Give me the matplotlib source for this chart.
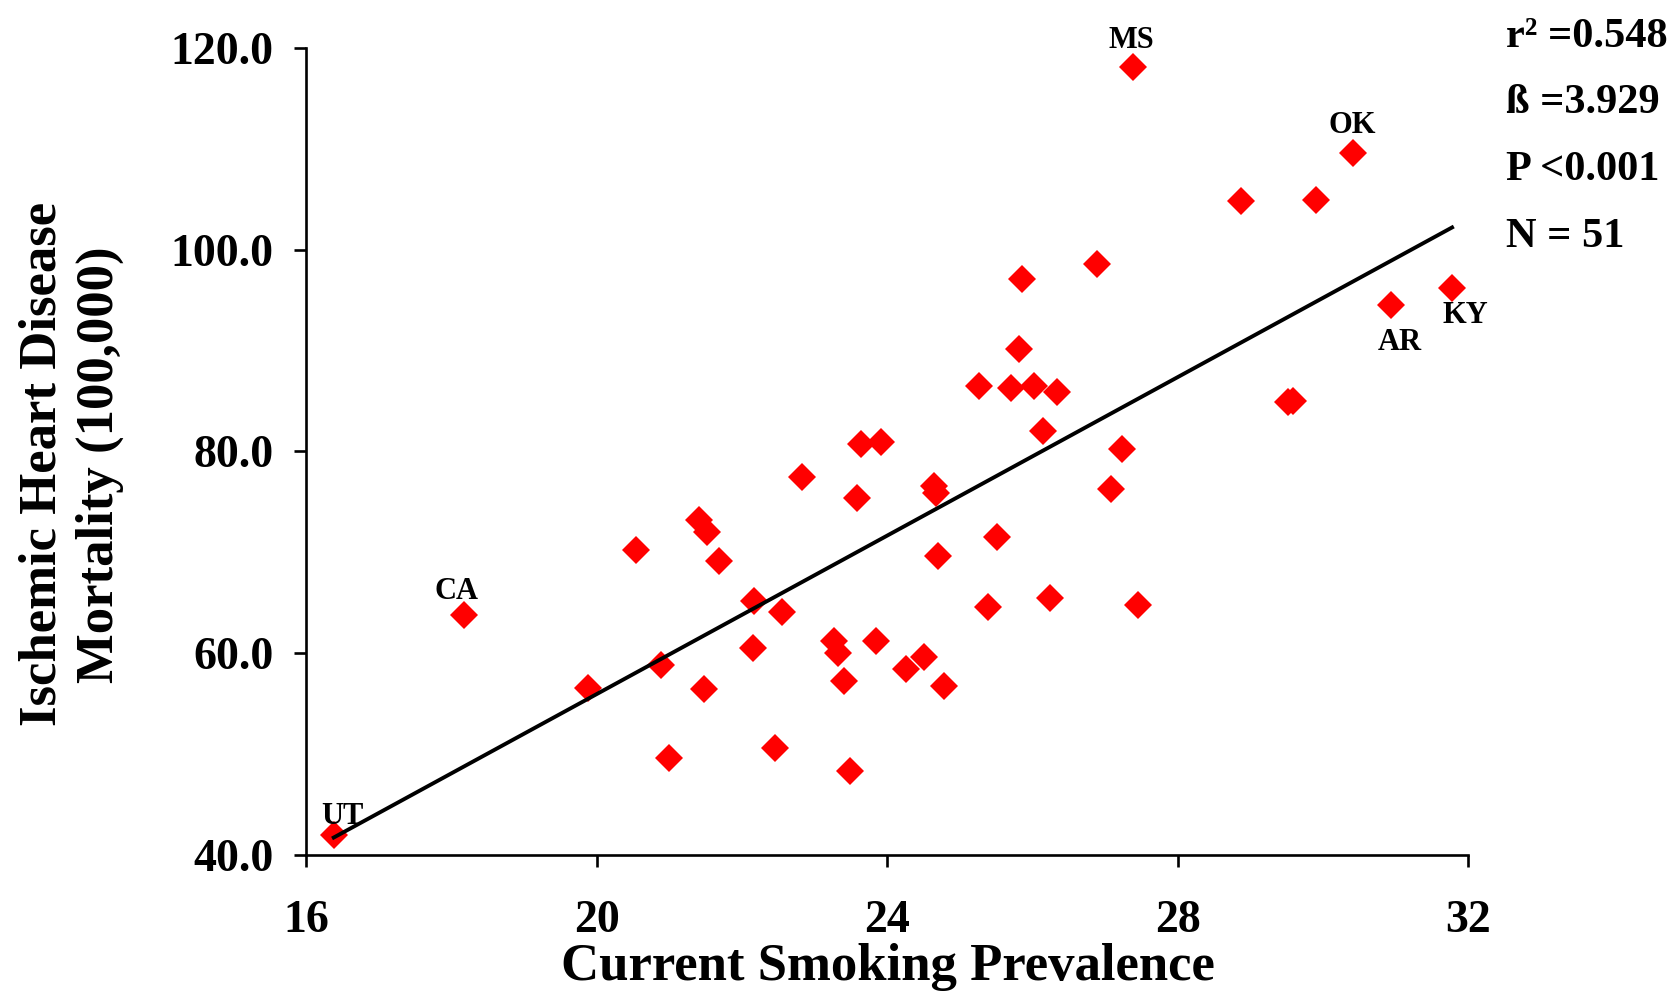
import numpy as np
import matplotlib
matplotlib.use('Agg')
import matplotlib.pyplot as plt

plt.rcParams['font.family'] = ['Liberation Serif', 'DejaVu Serif']
plt.rcParams['font.weight'] = 'bold'

# current smoking prevalence (%) and ischemic heart disease mortality per 100,000
smoking = [16.38, 18.17, 19.88, 20.54, 20.88, 21.00, 21.41, 21.52, 21.48, 21.69,
           22.17, 22.16, 22.46, 22.55, 22.83, 23.27, 23.33, 23.40, 23.49, 23.58,
           23.64, 23.92, 23.85, 24.26, 24.51, 24.64, 24.67, 24.70, 24.79, 25.27,
           25.39, 25.51, 25.71, 25.82, 25.86, 26.02, 26.14, 26.24, 26.34, 26.89,
           27.09, 27.24, 27.39, 27.46, 28.87, 29.52, 29.59, 29.90, 30.41, 30.94,
           31.78]
mortality = [41.9, 63.8, 56.5, 70.2, 58.8, 49.6, 73.2, 72.0, 56.4, 69.1,
             65.2, 60.5, 50.6, 64.1, 77.5, 61.2, 60.0, 57.2, 48.3, 75.4,
             80.7, 80.9, 61.2, 58.4, 59.6, 76.6, 75.9, 69.6, 56.7, 86.5,
             64.6, 71.5, 86.3, 90.1, 97.1, 86.5, 82.0, 65.5, 85.9, 98.6,
             76.3, 80.2, 118.1, 64.8, 104.8, 84.9, 85.0, 104.9, 109.6, 94.5,
             96.2]
states = ['UT', 'CA'] + [''] * 40 + ['MS'] + [''] * 5 + ['OK', 'AR', 'KY']

stats = ['r\u00b2 =0.548', '\u00df =3.929', 'P <0.001', 'N = 51']
beta = 3.929
intercept = -22.66

xticks = [16, 20, 24, 28, 32]
yticks = [40, 60, 80, 100, 120]

fig = plt.figure(figsize=(16.73, 9.94), dpi=100)
ax = fig.add_axes([0.183, 0.1402, 0.6945, 0.8115])

ax.plot(smoking, mortality, linestyle='none', marker='D', markersize=14.5,
        color='#ff0000', markeredgewidth=0, zorder=2)

xs = np.sort(np.array(smoking))
ax.plot(xs, intercept + beta * xs, color='black', lw=2.8, zorder=3)

# label offsets in points
offsets = {'UT': (6.5, 8.6), 'CA': (-5, 11.5), 'MS': (-1.4, 13.7),
           'OK': (0, 14.1), 'AR': (6.5, -32.4), 'KY': (9.4, -25.2)}
for xv, yv, s in zip(smoking, mortality, states):
    if s:
        ax.annotate(s, (xv, yv), xytext=offsets[s], textcoords='offset points',
                    ha='center', va='baseline', fontsize=22, fontweight='bold',
                    annotation_clip=False)

ax.set_xlim(16, 32)
ax.set_ylim(40, 120)
ax.set_xticks(xticks)
ax.set_yticks(yticks)
ax.set_xticklabels([str(t) for t in xticks])
ax.set_yticklabels(['%.1f' % t for t in yticks])
for sp in ['top', 'right']:
    ax.spines[sp].set_visible(False)
for sp in ['left', 'bottom']:
    ax.spines[sp].set_linewidth(1.9)
ax.tick_params(axis='both', direction='out', length=8.6, width=1.9, labelsize=33)
ax.tick_params(axis='x', pad=24)
ax.tick_params(axis='y', pad=15)
for lbl in ax.get_xticklabels() + ax.get_yticklabels():
    lbl.set_fontweight('bold')

fig.text(0.531, 0.014, 'Current Smoking Prevalence', ha='center', va='baseline',
         fontsize=38, fontweight='bold')
fig.text(0.0427, 0.533, 'Ischemic Heart Disease\nMortality (100,000)', rotation=90,
         ha='center', va='center', multialignment='center', fontsize=38,
         fontweight='bold', linespacing=1.25)

ys = [0.953, 0.886, 0.819, 0.752]
for s, yy in zip(stats, ys):
    fig.text(0.9, yy, s, ha='left', va='baseline', fontsize=30.5, fontweight='bold')

fig.savefig('out.png', dpi=100)
